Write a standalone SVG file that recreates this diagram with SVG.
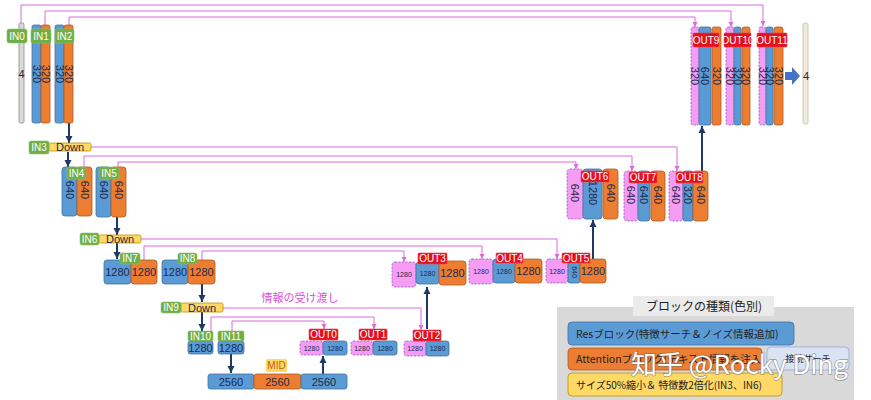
<svg xmlns="http://www.w3.org/2000/svg" width="871" height="400" viewBox="0 0 871 400">
<defs>
<marker id="ad" markerUnits="userSpaceOnUse" markerWidth="8" markerHeight="8" refX="7" refY="4" orient="auto"><path d="M0,0.5 L7,4 L0,7.5 z" fill="#1F3864"/></marker>
<marker id="ap" markerUnits="userSpaceOnUse" markerWidth="6" markerHeight="6" refX="5" refY="3" orient="auto"><path d="M0,0.5 L5,3 L0,5.5 z" fill="#DB6ADB"/></marker>
<style>
.b{fill:#5B9BD5;stroke:#41719C;stroke-width:0.8}
.o{fill:#ED7D31;stroke:#AE5A21;stroke-width:0.8}
.p{fill:#F59CF5;stroke:#8E5BB5;stroke-width:0.8;stroke-dasharray:2 1.5}
.g{fill:#70AD47;stroke:#8CC56A;stroke-width:0.6}
.r{fill:#E3101E;stroke:#F04050;stroke-width:0.6}
.y{fill:#FFD966;stroke:#BF9000;stroke-width:0.8}
.lt{font-family:"Liberation Sans",Arial,sans-serif;font-size:10px;fill:#fff;text-anchor:middle}
.n{font-family:"Liberation Sans",Arial,sans-serif;font-size:11px;fill:#1B2A4A;text-anchor:middle}
.s{font-family:"Liberation Sans",Arial,sans-serif;font-size:7px;fill:#1B2A4A;text-anchor:middle}
.sk{fill:none;stroke:#DB6ADB;stroke-width:1}
.ar{fill:none;stroke:#1F3864;stroke-width:2}
.jp{font-family:"Noto Sans CJK JP",sans-serif;fill:#222}
</style>
</defs>

<g id="connectors">
<path class="sk" marker-end="url(#ap)" d="M21,23 V5 H763 V26"/>
<path class="sk" marker-end="url(#ap)" d="M45,25 V11 H731 V27"/>
<path class="sk" marker-end="url(#ap)" d="M69,25 V17 H695 V27"/>
<path class="sk" marker-end="url(#ap)" d="M91,147 H677 V171"/>
<path class="sk" marker-end="url(#ap)" d="M84,167 V156 H632 V171"/>
<path class="sk" marker-end="url(#ap)" d="M118,167 V162 H576 V169"/>
<path class="sk" marker-end="url(#ap)" d="M141,239 H557 V259"/>
<path class="sk" marker-end="url(#ap)" d="M144,260 V246 H482 V259"/>
<path class="sk" marker-end="url(#ap)" d="M202,260 V251 H404 V262"/>
<path class="sk" marker-end="url(#ap)" d="M223,308 H421 V330"/>
<path class="sk" marker-end="url(#ap)" d="M211,331 V317 H374 V329"/>
<path class="sk" marker-end="url(#ap)" d="M232,331 V321 H324 V329"/>
<path class="ar" marker-end="url(#ad)" d="M69,123 V143"/>
<path class="ar" marker-end="url(#ad)" d="M68,152 V167"/>
<path class="ar" marker-end="url(#ad)" d="M117,217 V235"/>
<path class="ar" marker-end="url(#ad)" d="M117,243 V259"/>
<path class="ar" marker-end="url(#ad)" d="M202,284 V302"/>
<path class="ar" marker-end="url(#ad)" d="M202,312 V331"/>
<path class="ar" marker-end="url(#ad)" d="M231,354 V373"/>
<path class="ar" marker-end="url(#ad)" d="M323,374 V356"/>
<path class="ar" marker-end="url(#ad)" d="M427,329 V287"/>
<path class="ar" marker-end="url(#ad)" d="M593,259 V220"/>
<path class="ar" marker-end="url(#ad)" d="M702,171 V126"/>
<path d="M785,72 H792 V67 L800,76 L792,85 V80 H785 z" fill="#4472C4"/>
</g>

<text x="300" y="302" font-family="'Noto Sans CJK JP',sans-serif" font-size="11" fill="#D94FD9" text-anchor="middle">情報の受け渡し</text>

<g id="IN0">
<rect x="19" y="23" width="5" height="100" rx="1.5" fill="#D9D9D9" stroke="#8C8C8C" stroke-width="0.8"/>
<text class="n" x="21.5" y="78">4</text>
<rect class="g" x="7" y="29" width="20" height="14" rx="2"/><text class="lt" x="17" y="39.5">IN0</text>
</g>
<g id="IN1">
<rect class="b" x="32" y="25" width="9" height="98" rx="2"/><rect class="o" x="41" y="25" width="9" height="98" rx="2"/>
<text class="n" transform="translate(36.5,74) rotate(90)" dy="0.35em">320</text>
<text class="n" transform="translate(45.5,74) rotate(90)" dy="0.35em">320</text>
<rect class="g" x="31" y="29" width="20" height="14" rx="2"/><text class="lt" x="41" y="39.5">IN1</text>
</g>
<g id="IN2">
<rect class="b" x="55" y="25" width="9" height="98" rx="2"/><rect class="o" x="64" y="25" width="9" height="98" rx="2"/>
<text class="n" transform="translate(59.5,74) rotate(90)" dy="0.35em">320</text>
<text class="n" transform="translate(68.5,74) rotate(90)" dy="0.35em">320</text>
<rect class="g" x="55" y="29" width="19" height="14" rx="2"/><text class="lt" x="64.5" y="39.5">IN2</text>
</g>
<g id="IN3">
<rect class="y" x="49" y="143" width="42" height="8" rx="1.5"/><text class="n" x="70" y="151" font-size="10">Down</text>
<rect class="g" x="29" y="141" width="20" height="13" rx="2"/><text class="lt" x="39" y="151">IN3</text>
</g>
<g id="IN4">
<rect class="b" x="62" y="167" width="15" height="49" rx="3"/><rect class="o" x="77" y="167" width="15" height="49" rx="3"/>
<text class="n" transform="translate(69.5,190) rotate(90)" dy="0.35em">640</text>
<text class="n" transform="translate(84.5,190) rotate(90)" dy="0.35em">640</text>
<rect class="g" x="67" y="167" width="19" height="12" rx="2"/><text class="lt" x="76.5" y="176.5">IN4</text>
</g>
<g id="IN5">
<rect class="b" x="96" y="167" width="15" height="50" rx="3"/><rect class="o" x="111" y="167" width="15" height="50" rx="3"/>
<text class="n" transform="translate(103.5,190) rotate(90)" dy="0.35em">640</text>
<text class="n" transform="translate(118.5,190) rotate(90)" dy="0.35em">640</text>
<rect class="g" x="99" y="167" width="20" height="12" rx="2"/><text class="lt" x="109" y="176.5">IN5</text>
</g>
<g id="IN6">
<rect class="y" x="99" y="235" width="42" height="8" rx="1.5"/><text class="n" x="120" y="243" font-size="10">Down</text>
<rect class="g" x="80" y="233" width="19" height="12" rx="2"/><text class="lt" x="89.5" y="242.5">IN6</text>
</g>
<g id="IN7">
<rect class="b" x="104" y="260" width="27" height="24" rx="3"/><rect class="o" x="131" y="260" width="26" height="24" rx="3"/>
<text class="n" x="117.5" y="276">1280</text><text class="n" x="144" y="276">1280</text>
<rect class="g" x="120" y="253" width="20" height="11" rx="2"/><text class="lt" x="130" y="262">IN7</text>
</g>
<g id="IN8">
<rect class="b" x="162" y="260" width="26" height="24" rx="3"/><rect class="o" x="188" y="260" width="27" height="24" rx="3"/>
<text class="n" x="175" y="276">1280</text><text class="n" x="201.5" y="276">1280</text>
<rect class="g" x="178" y="253" width="19" height="11" rx="2"/><text class="lt" x="187.5" y="262">IN8</text>
</g>
<g id="IN9">
<rect class="y" x="181" y="303" width="42" height="9" rx="1.5"/><text class="n" x="202" y="311.5" font-size="10">Down</text>
<rect class="g" x="161" y="302" width="20" height="11" rx="2"/><text class="lt" x="171" y="311">IN9</text>
</g>
<g id="IN10">
<rect class="b" x="188" y="341" width="25" height="13" rx="2.5"/><text class="n" x="200.5" y="351.5">1280</text>
<rect class="g" x="188" y="331" width="25" height="10" rx="1.5"/><text class="lt" x="200.5" y="339.5">IN10</text>
</g>
<g id="IN11">
<rect class="b" x="218" y="341" width="26" height="13" rx="2.5"/><text class="n" x="231" y="351.5">1280</text>
<rect class="g" x="218" y="331" width="26" height="10" rx="1.5"/><text class="lt" x="231" y="339.5">IN11</text>
</g>
<g id="MID">
<rect class="b" x="208" y="374" width="46" height="15" rx="2.5"/><rect class="o" x="254" y="374" width="47" height="15" rx="2.5"/><rect class="b" x="301" y="374" width="46" height="15" rx="2.5"/>
<text class="n" x="231" y="385.5">2560</text><text class="n" x="277.5" y="385.5">2560</text><text class="n" x="324" y="385.5">2560</text>
<rect x="266" y="359" width="21" height="13" rx="1.5" fill="#FFD966"/><text x="276.5" y="369" font-family="'Liberation Sans',Arial,sans-serif" font-size="10" fill="#C55A11" text-anchor="middle">MID</text>
</g>
<g id="OUT0">
<rect class="p" x="300" y="341" width="23" height="14" rx="2.5"/><rect class="b" x="323" y="341" width="24" height="14" rx="2.5"/>
<text class="s" x="311.5" y="350.5">1280</text><text class="s" x="335" y="350.5">1280</text>
<rect class="r" x="309" y="329" width="29" height="11" rx="1"/><text class="lt" x="323.5" y="338">OUT0</text>
</g>
<g id="OUT1">
<rect class="p" x="351" y="341" width="22" height="14" rx="2.5"/><rect class="b" x="373" y="341" width="24" height="14" rx="2.5"/>
<text class="s" x="362" y="350.5">1280</text><text class="s" x="385" y="350.5">1280</text>
<rect class="r" x="359" y="329" width="28" height="11" rx="1"/><text class="lt" x="373" y="338">OUT1</text>
</g>
<g id="OUT2">
<rect class="p" x="404" y="341" width="22" height="15" rx="2.5"/><rect class="b" x="426" y="341" width="23" height="15" rx="2.5"/>
<text class="s" x="415" y="351">1280</text><text class="s" x="437.5" y="351">1280</text>
<rect class="r" x="413" y="330" width="28" height="11" rx="1"/><text class="lt" x="427" y="339">OUT2</text>
</g>
<g id="OUT3">
<rect class="p" x="392" y="262" width="24" height="25" rx="3"/><rect class="b" x="416" y="262" width="23" height="22" rx="3"/><rect class="o" x="439" y="261" width="27" height="24" rx="3"/>
<text class="s" x="404" y="277">1280</text><text class="s" x="427.5" y="276">1280</text><text class="n" x="452.5" y="277">1280</text>
<rect class="r" x="418" y="253" width="29" height="11" rx="1"/><text class="lt" x="432.5" y="262">OUT3</text>
</g>
<g id="OUT4">
<rect class="p" x="469" y="259" width="24" height="25" rx="3"/><rect class="b" x="493" y="259" width="22" height="24" rx="3"/><rect class="o" x="515" y="259" width="27" height="24" rx="3"/>
<text class="s" x="481" y="274">1280</text><text class="s" x="504" y="274">1280</text><text class="n" x="528.5" y="275">1280</text>
<rect class="r" x="496" y="253" width="27" height="10" rx="1"/><text class="lt" x="509.5" y="261.5">OUT4</text>
</g>
<g id="OUT5">
<rect class="p" x="546" y="259" width="22" height="24" rx="3"/><rect class="b" x="568" y="259" width="12" height="24" rx="2"/><rect class="o" x="580" y="259" width="26" height="24" rx="3"/>
<text class="s" x="557" y="274">1280</text><text class="s" transform="translate(574,272) rotate(90)" dy="0.35em">640</text><text class="n" x="593" y="275">1280</text>
<rect class="r" x="562" y="253" width="28" height="10" rx="1"/><text class="lt" x="576" y="261.5">OUT5</text>
</g>
<g id="OUT6">
<rect class="p" x="567" y="169" width="16" height="50" rx="3"/><rect class="b" x="583" y="169" width="19" height="50" rx="3"/><rect class="o" x="603" y="169" width="15" height="50" rx="3"/>
<text class="n" transform="translate(575,193) rotate(90)" dy="0.35em">640</text>
<text class="n" transform="translate(592.5,193) rotate(90)" dy="0.35em">1280</text>
<text class="n" transform="translate(610.5,193) rotate(90)" dy="0.35em">640</text>
<rect class="r" x="581" y="171" width="28" height="11" rx="1"/><text class="lt" x="595" y="180">OUT6</text>
</g>
<g id="OUT7">
<rect class="p" x="624" y="171" width="14" height="50" rx="3"/><rect class="b" x="638" y="171" width="12" height="50" rx="3"/><rect class="o" x="651" y="171" width="14" height="50" rx="3"/>
<text class="n" transform="translate(631,195) rotate(90)" dy="0.35em">640</text>
<text class="n" transform="translate(644,195) rotate(90)" dy="0.35em">640</text>
<text class="n" transform="translate(658,195) rotate(90)" dy="0.35em">640</text>
<rect class="r" x="629" y="172" width="28" height="11" rx="1"/><text class="lt" x="643" y="181">OUT7</text>
</g>
<g id="OUT8">
<rect class="p" x="669" y="171" width="14" height="50" rx="3"/><rect class="b" x="683" y="171" width="10" height="50" rx="2"/><rect class="o" x="693" y="171" width="15" height="50" rx="3"/>
<text class="n" transform="translate(676,195) rotate(90)" dy="0.35em">640</text>
<text class="n" transform="translate(688,195) rotate(90)" dy="0.35em">320</text>
<text class="n" transform="translate(700.5,195) rotate(90)" dy="0.35em">640</text>
<rect class="r" x="676" y="172" width="27" height="11" rx="1"/><text class="lt" x="689.5" y="181">OUT8</text>
</g>
<g id="OUT9">
<rect class="p" x="691" y="27" width="8" height="98" rx="2"/><rect class="b" x="699" y="27" width="12" height="98" rx="2"/><rect class="o" x="712" y="27" width="9" height="98" rx="2"/>
<text class="n" transform="translate(695,76) rotate(90)" dy="0.35em">320</text>
<text class="n" transform="translate(705,76) rotate(90)" dy="0.35em">640</text>
<text class="n" transform="translate(716.5,76) rotate(90)" dy="0.35em">320</text>
<rect class="r" x="693" y="33" width="26" height="14" rx="1"/><text class="lt" x="706" y="43.5">OUT9</text>
</g>
<g id="OUT10">
<rect class="p" x="726" y="27" width="8" height="98" rx="2"/><rect class="b" x="734" y="27" width="7" height="98" rx="2"/><rect class="o" x="742" y="27" width="8" height="98" rx="2"/>
<text class="n" transform="translate(730,76) rotate(90)" dy="0.35em">320</text>
<text class="n" transform="translate(737.5,76) rotate(90)" dy="0.35em">320</text>
<text class="n" transform="translate(746,76) rotate(90)" dy="0.35em">320</text>
<rect class="r" x="724" y="33" width="27" height="14" rx="1"/><text class="lt" x="737.5" y="43.5">OUT10</text>
</g>
<g id="OUT11">
<rect class="p" x="759" y="27" width="7" height="98" rx="2"/><rect class="b" x="766" y="27" width="7" height="98" rx="2"/><rect class="o" x="774" y="27" width="9" height="98" rx="2"/>
<text class="n" transform="translate(762.5,76) rotate(90)" dy="0.35em">320</text>
<text class="n" transform="translate(769.5,76) rotate(90)" dy="0.35em">320</text>
<text class="n" transform="translate(778.5,76) rotate(90)" dy="0.35em">320</text>
<rect class="r" x="757" y="33" width="30" height="14" rx="1"/><text class="lt" x="772" y="43.5">OUT11</text>
</g>
<g id="OUTPUT">
<rect x="803" y="23" width="5" height="101" rx="1.5" fill="#EEECE1" stroke="#C4BD97" stroke-width="0.8"/>
<text class="n" x="806" y="80">4</text>
</g>

<g id="legend">
<rect x="557" y="307" width="297" height="93" fill="#D9D9D9"/>
<rect x="633" y="296" width="141" height="20" fill="#EBEBEB"/>
<text class="jp" x="704" y="311" font-size="12" text-anchor="middle">ブロックの種類(色別)</text>
<rect x="568" y="322" width="226" height="23" rx="4" fill="#5B9BD5" stroke="#41719C" stroke-width="0.8"/>
<text class="jp" x="576" y="337.5" font-size="10.5">Resブロック(特徴サーチ＆ノイズ情報追加)</text>
<rect x="568" y="348" width="194" height="22" rx="4" fill="#ED7D31" stroke="#AE5A21" stroke-width="0.8"/>
<text class="jp" x="576" y="363" font-size="10.5">Attentionブロック(テキスト情報を注入)</text>
<rect x="767" y="347" width="82" height="23" rx="4" fill="#DAE3F3" stroke="#8FAADC" stroke-width="0.8"/>
<text class="jp" x="808" y="362" font-size="9" fill="#555" text-anchor="middle">接続サーチ</text>
<rect x="568" y="373" width="214" height="23" rx="4" fill="#FFD966" stroke="#BF9000" stroke-width="0.8"/>
<text class="jp" x="576" y="388.5" font-size="10">サイズ50%縮小＆ 特徴数2倍化(IN3、IN6)</text>
</g>
<text x="631" y="374" font-family="'Noto Sans CJK SC','Noto Sans',sans-serif" font-size="26" fill="#fff" stroke="#666" stroke-width="1.4" paint-order="stroke" stroke-opacity="0.6">知乎 @Rocky Ding</text>
</svg>
